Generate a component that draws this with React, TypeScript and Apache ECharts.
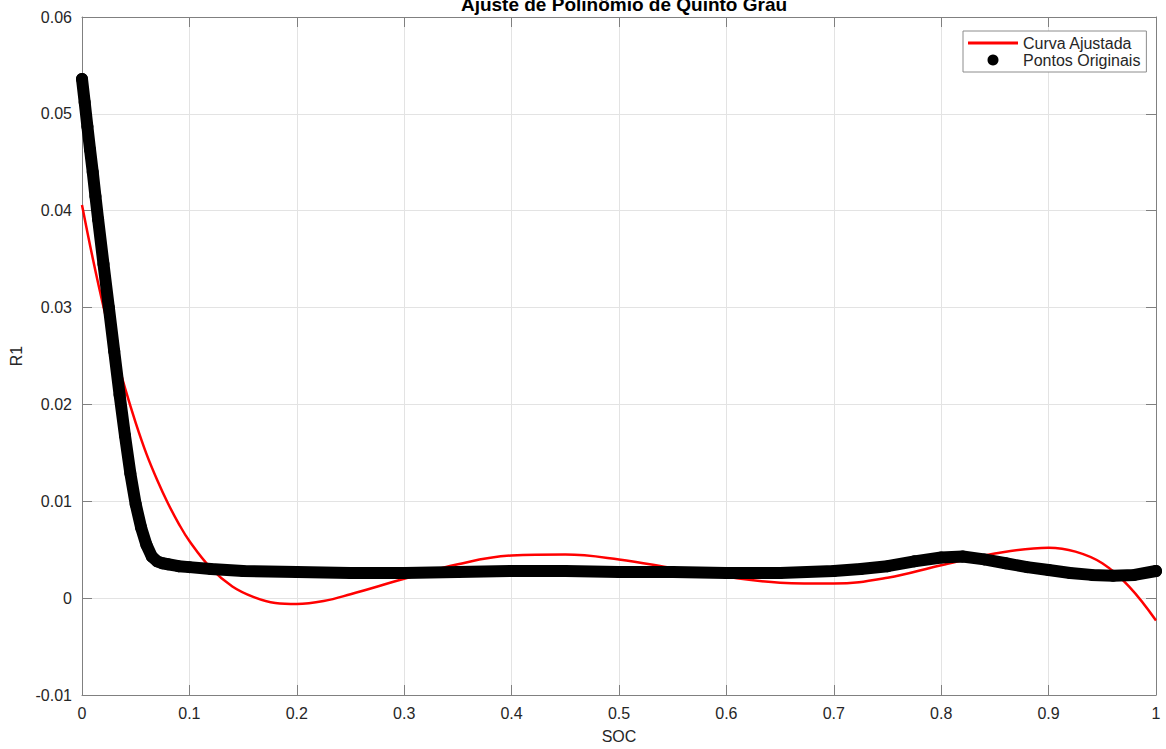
import React, { useEffect, useRef } from "react";
import * as echarts from "echarts";

const TITLE = "Ajuste de Polinômio de Quinto Grau";
const X_NAME = "SOC";
const Y_NAME = "R1";
const FIT_NAME = "Curva Ajustada";
const DATA_NAME = "Pontos Originais";

// Fitted 5th-degree curve
const fitSoc = [
  0, 0.01, 0.02, 0.03, 0.04, 0.05, 0.06, 0.07, 0.08, 0.09, 0.1, 0.12, 0.14, 0.16, 0.18, 0.2,
  0.225, 0.25, 0.3, 0.35, 0.4, 0.45, 0.5, 0.55, 0.6, 0.65, 0.7, 0.75, 0.8, 0.85, 0.9, 0.925,
  0.95, 0.975, 1,
];
const fitR1 = [
  0.0406, 0.0351, 0.0301, 0.0257, 0.0217, 0.0181, 0.0149, 0.0122, 0.0098, 0.0077, 0.0059,
  0.0031, 0.0012, 0.0001, -0.0005, -0.0006, -0.0003, 0.0004, 0.002, 0.0035, 0.0044, 0.0045,
  0.004, 0.0031, 0.0022, 0.0016, 0.0015, 0.0021, 0.0034, 0.0046, 0.0052, 0.0048, 0.0036,
  0.0012, -0.0023,
];

// Original points
const dataSoc = [
  0, 0.0025, 0.005, 0.0075, 0.01, 0.0125, 0.015, 0.02, 0.025, 0.03, 0.035, 0.04, 0.045, 0.05,
  0.055, 0.06, 0.065, 0.07, 0.075, 0.08, 0.09, 0.1, 0.12, 0.15, 0.2, 0.25, 0.3, 0.35, 0.4, 0.45,
  0.5, 0.55, 0.6, 0.65, 0.7, 0.725, 0.75, 0.775, 0.8, 0.82, 0.84, 0.86, 0.88, 0.9, 0.92, 0.94,
  0.96, 0.98, 1,
];
const dataR1 = [
  0.0536, 0.0512, 0.0487, 0.0463, 0.044, 0.0415, 0.0391, 0.0345, 0.03, 0.0255, 0.021, 0.0168,
  0.0129, 0.0097, 0.0073, 0.0055, 0.0043, 0.0038, 0.0036, 0.0035, 0.0033, 0.0032, 0.003, 0.0028,
  0.0027, 0.0026, 0.0026, 0.0027, 0.0028, 0.0028, 0.0027, 0.0027, 0.0026, 0.0026, 0.0028, 0.003,
  0.0033, 0.0038, 0.0042, 0.0043, 0.004, 0.0036, 0.0032, 0.0029, 0.0026, 0.0024, 0.0023, 0.0024,
  0.0028,
];

const FONT = "'Liberation Sans', Arial, Helvetica, sans-serif";
const AXIS_GRAY = "#808080";
const GRID_GRAY = "#e3e3e3";
const LABEL_COLOR = "#262626";

function buildOption() {
  const fitData = fitSoc.map((x, i) => [x, fitR1[i]]);
  const pointData = dataSoc.map((x, i) => [x, dataR1[i]]);
  const axisLine = { show: true, onZero: false, lineStyle: { color: AXIS_GRAY, width: 1 } };
  const axisTick = { show: true, inside: true, length: 10, lineStyle: { color: AXIS_GRAY, width: 1 } };
  const xFmt = (v: number) => String(Math.round(v * 10) / 10);
  const yFmt = (v: number) => String(Math.round(v * 100) / 100);
  return {
    animation: false,
    backgroundColor: "#ffffff",
    textStyle: { fontFamily: FONT },
    title: {
      text: TITLE,
      left: 619,
      top: -10,
      textAlign: "center",
      textStyle: { fontSize: 19, fontWeight: "bold", color: "#000000", fontFamily: FONT },
    },
    legend: {
      orient: "vertical",
      left: 963,
      top: 31,
      padding: [4, 6, 4, 5],
      itemGap: 1,
      itemWidth: 50,
      itemHeight: 11,
      borderColor: "#8c8c8c",
      borderWidth: 1,
      backgroundColor: "#ffffff",
      selectedMode: false,
      itemStyle: { borderWidth: 0 },
      textStyle: { fontSize: 16, color: LABEL_COLOR, fontFamily: FONT },
      data: [
        { name: FIT_NAME, icon: "path://M0 0H50V3H0Z" },
        { name: DATA_NAME, icon: "circle" },
      ],
    },
    grid: { left: 82, right: 10, top: 17, bottom: 52, containLabel: false },
    xAxis: [
      {
        type: "value",
        min: 0,
        max: 1,
        interval: 0.1,
        position: "bottom",
        name: X_NAME,
        nameLocation: "middle",
        nameGap: 33,
        nameTextStyle: { fontSize: 16, color: LABEL_COLOR, fontFamily: FONT },
        axisLine,
        axisTick,
        axisLabel: { fontSize: 16, color: LABEL_COLOR, margin: 10, formatter: xFmt, fontFamily: FONT },
        splitLine: { show: true, lineStyle: { color: GRID_GRAY, width: 1 } },
      },
      {
        type: "value",
        min: 0,
        max: 1,
        interval: 0.1,
        position: "top",
        axisLine,
        axisTick,
        axisLabel: { show: false },
        splitLine: { show: false },
      },
    ],
    yAxis: [
      {
        type: "value",
        min: -0.01,
        max: 0.06,
        interval: 0.01,
        position: "left",
        name: Y_NAME,
        nameLocation: "middle",
        nameGap: 57,
        nameTextStyle: { fontSize: 16, color: LABEL_COLOR, fontFamily: FONT },
        axisLine,
        axisTick,
        axisLabel: { fontSize: 16, color: LABEL_COLOR, margin: 10, formatter: yFmt, fontFamily: FONT },
        splitLine: { show: true, lineStyle: { color: GRID_GRAY, width: 1 } },
      },
      {
        type: "value",
        min: -0.01,
        max: 0.06,
        interval: 0.01,
        position: "right",
        axisLine,
        axisTick,
        axisLabel: { show: false },
        splitLine: { show: false },
      },
    ],
    series: [
      {
        name: FIT_NAME,
        type: "line",
        xAxisIndex: 0,
        yAxisIndex: 0,
        data: fitData,
        smooth: 0.4,
        showSymbol: false,
        symbol: "none",
        itemStyle: { color: "#ff0000" },
        lineStyle: { color: "#ff0000", width: 2.5 },
        z: 2,
      },
      {
        name: DATA_NAME,
        type: "line",
        xAxisIndex: 0,
        yAxisIndex: 0,
        data: pointData,
        smooth: false,
        showSymbol: true,
        symbol: "circle",
        symbolSize: 12,
        itemStyle: { color: "#000000", borderWidth: 0 },
        lineStyle: { color: "#000000", width: 12, cap: "round", join: "round" },
        z: 3,
      },
    ],
  };
}

export default function App() {
  const ref = useRef<HTMLDivElement>(null);
  useEffect(() => {
    if (!ref.current) return;
    const chart = echarts.init(ref.current, null, { renderer: "svg" });
    chart.setOption(buildOption() as any);
    return () => chart.dispose();
  }, []);
  return (
    <div
      ref={ref}
      style={{ position: "absolute", left: 0, top: 0, width: 1166, height: 749, background: "#ffffff" }}
    />
  );
}
